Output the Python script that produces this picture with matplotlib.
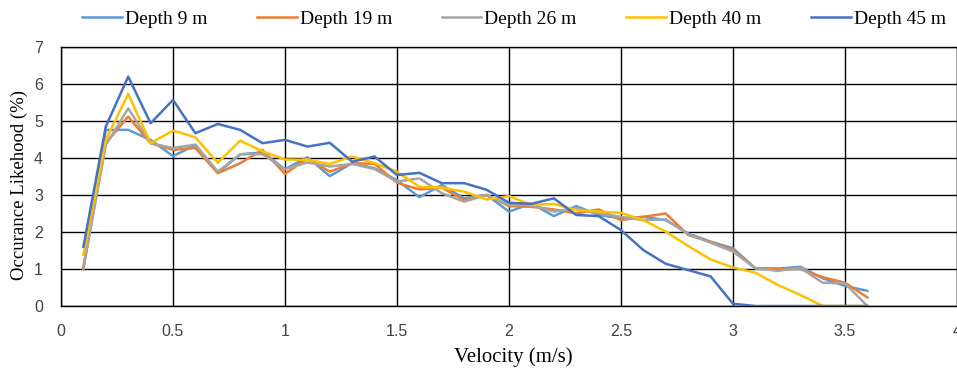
import numpy as np
import matplotlib
matplotlib.use("Agg")
import matplotlib.pyplot as plt

# velocity bins (m/s)
velocity = [0.1, 0.2, 0.3, 0.4, 0.5, 0.6, 0.7, 0.8, 0.9, 1.0,
            1.1, 1.2, 1.3, 1.4, 1.5, 1.6, 1.7, 1.8, 1.9, 2.0,
            2.1, 2.2, 2.3, 2.4, 2.5, 2.6, 2.7, 2.8, 2.9, 3.0,
            3.1, 3.2, 3.3, 3.4, 3.5, 3.6]

# occurrence likelihood (%)
depth_9 = [1.0, 4.76, 4.76, 4.49, 4.05, 4.35, 3.6, 4.1, 4.15, 3.7,
           4.02, 3.51, 3.86, 3.72, 3.4, 2.94, 3.27, 2.91, 3.0, 2.55,
           2.77, 2.43, 2.7, 2.46, 2.37, 2.41, 2.32, 1.96, 1.74, 1.56,
           1.02, 1.01, 1.06, 0.75, 0.54, 0.41]
depth_19 = [1.02, 4.4, 5.12, 4.4, 4.22, 4.27, 3.59, 3.86, 4.22, 3.57,
            3.99, 3.63, 3.86, 3.84, 3.33, 3.15, 3.2, 2.86, 3.0, 2.7,
            2.68, 2.61, 2.5, 2.61, 2.32, 2.41, 2.5, 1.92, 1.73, 1.51,
            1.02, 1.0, 1.0, 0.78, 0.63, 0.23]
depth_26 = [1.05, 4.35, 5.34, 4.4, 4.27, 4.36, 3.63, 4.1, 4.1, 3.7,
            3.88, 3.77, 3.84, 3.7, 3.36, 3.45, 3.05, 2.82, 3.0, 2.73,
            2.73, 2.55, 2.64, 2.5, 2.41, 2.32, 2.34, 1.94, 1.71, 1.47,
            1.02, 0.95, 1.03, 0.63, 0.61, 0.0]
depth_40 = [1.38, 4.49, 5.73, 4.4, 4.74, 4.56, 3.87, 4.47, 4.18, 3.96,
            3.95, 3.84, 4.04, 3.86, 3.63, 3.22, 3.2, 3.09, 2.88, 2.97,
            2.73, 2.76, 2.59, 2.55, 2.52, 2.32, 2.01, 1.62, 1.26, 1.04,
            0.9, 0.57, 0.3, 0.0, 0.0, 0.0]
depth_45 = [1.6, 4.85, 6.2, 4.94, 5.57, 4.67, 4.92, 4.76, 4.4, 4.49,
            4.31, 4.41, 3.9, 4.04, 3.54, 3.6, 3.32, 3.32, 3.14, 2.79,
            2.76, 2.91, 2.46, 2.43, 2.05, 1.51, 1.14, 0.97, 0.8, 0.06,
            0.0, 0.0, 0.0, 0.0, 0.0, 0.0]

labels = ["Depth 9 m", "Depth 19 m", "Depth 26 m", "Depth 40 m", "Depth 45 m"]
colors = ["#5B9BD5", "#ED7D31", "#A5A5A5", "#FFC000", "#4472C4"]
series = [depth_9, depth_19, depth_26, depth_40, depth_45]

serif = "Liberation Serif"
tickfont = "Liberation Sans"

fig = plt.figure(figsize=(9.57, 3.70), dpi=100)
ax = fig.add_axes([61 / 957, 1 - 306 / 370, 896 / 957, 259 / 370])

for vals, col, lab in zip(series, colors, labels):
    ax.plot(velocity, vals, color=col, lw=1.8, label=lab, zorder=3)

ax.set_xlim(0, 4)
ax.set_ylim(0, 7)
ax.set_xticks(np.arange(0, 4.01, 0.5))
ax.set_xticklabels(["0", "0.5", "1", "1.5", "2", "2.5", "3", "3.5", "4"])
ax.set_yticks(range(0, 8))
ax.grid(True, color="black", lw=1.0)
ax.set_axisbelow(True)
for s in ax.spines.values():
    s.set_color("black")
    s.set_linewidth(1.0)
ax.tick_params(length=0, pad=13, labelsize=11.5, colors="#404040")
for t in ax.get_xticklabels() + ax.get_yticklabels():
    t.set_family(tickfont)

ax.set_xlabel("Velocity (m/s)", family=serif, fontsize=15, va="center")
ax.xaxis.set_label_coords(0.505, -0.197)
ax.set_ylabel("Occurance Likehood (%)", family=serif, fontsize=13.5, va="center")
ax.yaxis.set_label_coords(-0.046, 0.467)

leg = fig.legend(loc="center", bbox_to_anchor=(0.537, 0.949), ncol=5,
                 frameon=False, prop={"family": serif, "size": 14},
                 handlelength=2.05, handletextpad=0.15, columnspacing=2.55)

fig.savefig("out.png", dpi=100)
